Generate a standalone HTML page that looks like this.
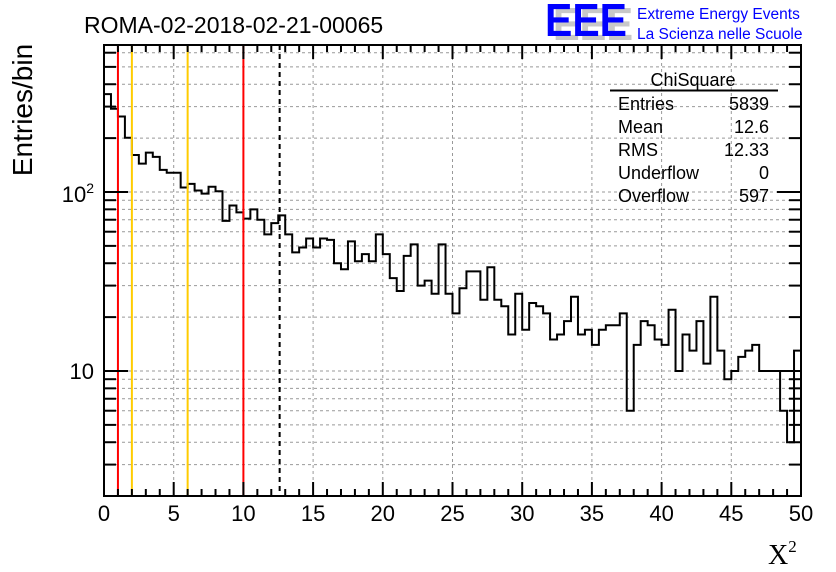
<!DOCTYPE html>
<html><head><meta charset="utf-8"><style>
body{margin:0;background:#fff;}
svg{display:block;font-family:"Liberation Sans",sans-serif;}
</style></head><body>
<svg id="c" width="836" height="572" viewBox="0 0 836 572">
<text x="84" y="33" font-size="23">ROMA-02-2018-02-21-00065</text>
<g>
<text x="553" y="40" font-size="46" font-weight="bold" fill="#c8c8c8" textLength="80" lengthAdjust="spacingAndGlyphs">EEE</text>
<text x="545" y="36" font-size="46" font-weight="bold" fill="#0000ff" textLength="82" lengthAdjust="spacingAndGlyphs">EEE</text>
<text x="637" y="19" font-size="15.5" fill="#0000ff">Extreme Energy Events</text>
<text x="637" y="39" font-size="15.5" fill="#0000ff">La Scienza nelle Scuole</text>
</g>
<g id="grid"></g>
<g id="marks"></g>
<g id="axes"></g>
<g font-size="18">
<text x="693" y="86" text-anchor="middle">ChiSquare</text>
<line x1="610" y1="90.5" x2="778" y2="90.5" stroke="#000" stroke-width="2"/>
<text x="618" y="110">Entries</text><text x="769" y="110" text-anchor="end">5839</text>
<text x="618" y="133">Mean</text><text x="769" y="133" text-anchor="end">12.6</text>
<text x="618" y="156">RMS</text><text x="769" y="156" text-anchor="end">12.33</text>
<text x="618" y="179">Underflow</text><text x="769" y="179" text-anchor="end">0</text>
<text x="618" y="202">Overflow</text><text x="769" y="202" text-anchor="end">597</text>
</g>
<text transform="translate(32,110) rotate(-90)" text-anchor="middle" font-size="28">Entries/bin</text>
<text x="768" y="564" font-size="28" font-family="Liberation Serif,serif">X<tspan font-size="17" dy="-12">2</tspan></text>
</svg>
<script>
const binCounts = [352,292,264,201,161,144,166,157,133,128,128,106,111,102,98,107,101,69,84,77,71,80,70,58,67,74,58,46,49,55,49,55,54,40,37,53,41,45,41,58,45,33,28,44,51,30,32,27,51,27,21,29,36,36,25,38,25,23,16,27,17,24,23,21,15,16,19,26,16,17,14,17,18,18,21,6,14,19,18,15,14,22,10,16,13,19,11,26,13,9,10,12,13,14,10,10,10,6,4,13];
const xTicks = [0,5,10,15,20,25,30,35,40,45,50];
const redLines = [1,10];
const orangeLines = [2,6];
const meanValue = [12.6];
const binWidth = 0.5;

const NS="http://www.w3.org/2000/svg";
const L=104,R=801,T=45,B=496;
const X=v=>L+(v/50)*(R-L);
const Y=v=>192-179*Math.log10(v/100);
function mk(tag,attrs,parent){const e=document.createElementNS(NS,tag);for(const k in attrs)e.setAttribute(k,attrs[k]);parent.appendChild(e);return e;}
const grid=document.getElementById('grid'),marks=document.getElementById('marks'),axes=document.getElementById('axes');

xTicks.forEach(t=>{if(t>0&&t<50){const g=mk('line',{x1:X(t),x2:X(t),y1:T,y2:B,stroke:'#999','stroke-dasharray':'3,3'},grid);

}});
const yLogTicks=[];
for(let d=1;d<=100;d*=10)for(let m=1;m<10;m++){const v=m*d;if(Y(v)>T&&Y(v)<B)yLogTicks.push(v);}
yLogTicks.forEach(v=>{const g=mk('line',{x1:L,x2:R,y1:Y(v),y2:Y(v),stroke:'#999','stroke-dasharray':'3,3'},grid);

});

let d='M'+X(0)+' '+B;
binCounts.forEach((c,i)=>{const y=Y(c);d+=' L'+X(i*binWidth)+' '+y+' L'+X((i+1)*binWidth)+' '+y;});
d+=' L'+X(binCounts.length*binWidth)+' '+B;
const h=mk('path',{d:d,fill:'none',stroke:'#000','stroke-width':2},marks);



redLines.forEach(v=>{const l=mk('line',{x1:X(v),x2:X(v),y1:T,y2:B,stroke:'#ff0000','stroke-width':2},marks);

});
orangeLines.forEach(v=>{const l=mk('line',{x1:X(v),x2:X(v),y1:T,y2:B,stroke:'#ffcc00','stroke-width':2},marks);

});
meanValue.forEach(v=>{const l=mk('line',{x1:X(v),x2:X(v),y1:T,y2:B,stroke:'#000','stroke-width':2,'stroke-dasharray':'5,4'},marks);

});

const f=mk('rect',{x:L,y:T,width:R-L,height:B-T,fill:'none',stroke:'#000','stroke-width':2},axes);


for(let t=0;t<=50;t++){const len=t%5==0?14:7;
mk('line',{x1:X(t),x2:X(t),y1:B,y2:B-len,stroke:'#000','stroke-width':2},axes);
mk('line',{x1:X(t),x2:X(t),y1:T,y2:T+len,stroke:'#000','stroke-width':2},axes);}
yLogTicks.forEach(v=>{const major=(v==10||v==100);const len=major?24:12;
mk('line',{x1:L,x2:L+len,y1:Y(v),y2:Y(v),stroke:'#000','stroke-width':2},axes);
mk('line',{x1:R,x2:R-len,y1:Y(v),y2:Y(v),stroke:'#000','stroke-width':2},axes);});
xTicks.forEach(t=>{const tx=mk('text',{x:X(t),y:521,'font-size':22,'text-anchor':'middle'},axes);tx.textContent=t;

});
const y1=mk('text',{x:94,y:Y(10)+8,'font-size':22,'text-anchor':'end'},axes);y1.textContent='10';


const y2=mk('text',{x:94,y:Y(100)+10,'font-size':22,'text-anchor':'end'},axes);
y2.innerHTML='10<tspan font-size="14" dy="-9">2</tspan>';


</script>
</body></html>
